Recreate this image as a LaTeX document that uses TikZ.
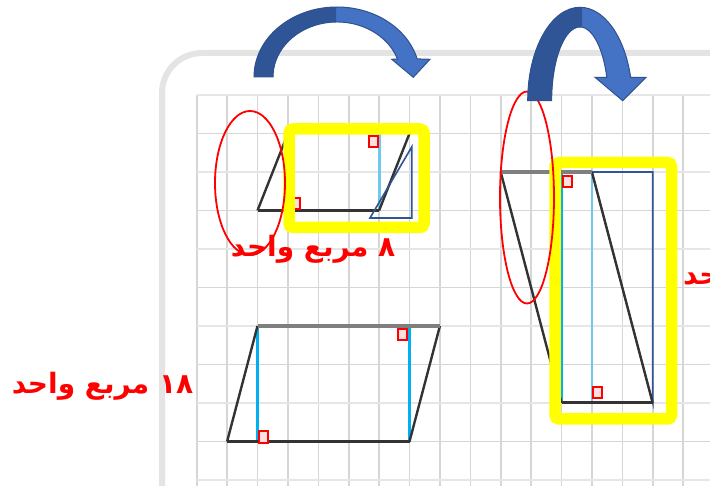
\documentclass[tikz,border=0pt]{standalone}
\usepackage{fontspec}
\newfontfamily\arabicfont[Script=Arabic]{DejaVu Sans}
\TeXXeTstate=1
\begin{document}
\begin{tikzpicture}[x=1pt,y=-1pt,
  gridline/.style={draw=gridgray,line width=1.6},
  gridwide/.style={draw=gridlight,line width=2.6},
  boardframe/.style={draw=framegray,line width=6,rounded corners=40},
  slantedge/.style={draw=edgedark,line width=2.4},
  baseedge/.style={draw=edgedark,line width=3},
  topedge/.style={draw=edgegray,line width=3.6},
  heightline/.style={draw=heightblue,line width=2.4},
  paleheight/.style={draw=paleblue,line width=2.8},
  cutpiece/.style={draw=cutblue,line width=1.6},
  anglemark/.style={draw=marker,fill=marker!12,line width=2},
  highlightbox/.style={draw=highlight,line width=11.5,rounded corners=4},
  loop/.style={draw=marker,line width=1.8},
  areatext/.style={text=marker,inner sep=0pt,font=\arabicfont\bfseries\fontsize{28}{32}\selectfont}]
\definecolor{gridgray}{HTML}{D6D6D6}
\definecolor{gridlight}{HTML}{E6E6E6}
\definecolor{framegray}{HTML}{E4E4E4}
\definecolor{arrowdark}{HTML}{2F5597}
\definecolor{arrowlight}{HTML}{4472C4}
\definecolor{arrowline}{HTML}{2F528F}
\definecolor{cutblue}{HTML}{2F5597}
\definecolor{heightblue}{HTML}{00B0F0}
\definecolor{paleblue}{HTML}{6FC8EE}
\definecolor{marker}{HTML}{FF0000}
\definecolor{highlight}{HTML}{FFFF00}
\definecolor{edgegray}{HTML}{7F7F7F}
\definecolor{edgedark}{HTML}{333333}
\useasboundingbox (0,0) rectangle (710,486);
\fill[white] (0,0) rectangle (710,486);
% squared paper
\foreach \i in {0,...,16}
  {\draw[gridline] ({196.7+30.4*\i},95) -- ({196.7+30.4*\i},486);}
\foreach \j in {1,3,...,9}
  {\draw[gridline] (196.7,{95+38.5*\j}) -- (710,{95+38.5*\j});}
\foreach \j in {0,2,...,10}
  {\draw[gridwide] (196.7,{95+38.5*\j}) -- (710,{95+38.5*\j});}
\draw[boardframe] (162,560) |- (760,53);
% shapes on the grid
\begin{scope}[shift={(196.7,95)},x=30.4pt,y=-38.5pt]
  \coordinate (s1) at (2,3); \coordinate (s2) at (6,3);
  \coordinate (s3) at (7,1); \coordinate (s4) at (3,1);
  \coordinate (b1) at (1,9); \coordinate (b2) at (7,9);
  \coordinate (b3) at (8,6); \coordinate (b4) at (2,6);
  \coordinate (t1) at (10,2); \coordinate (t2) at (13,2);
  \coordinate (t3) at (15,8); \coordinate (t4) at (12,8);
  \draw[paleheight] (6,1) -- (s2);
  \draw[heightline] (b4) -- (2,9);
  \draw[heightline] (7,6) -- (b2);
  \draw[heightline] (12,2) -- (t4);
  \draw[paleheight] (t2) -- (13,8);
  \draw[cutpiece] (t2) -- (15,2) -- (t3) -- cycle;
  \draw[slantedge] (s1) -- (s4);
  \draw[slantedge] (s2) -- (s3);
  \draw[baseedge] (s1) -- (s2);
  \draw[draw=edgedark,line width=1.8] (s4) -- (s3);
  \draw[slantedge] (b1) -- (b4);
  \draw[slantedge] (b2) -- (b3);
  \draw[baseedge] (b1) -- (b2);
  \draw[topedge] (b4) -- (b3);
  \draw[slantedge] (t1) -- (t4);
  \draw[slantedge] (t2) -- (t3);
  \draw[baseedge] (t4) -- (t3);
  \draw[topedge] (t1) -- (t2);
\end{scope}
% moved triangle, small shape
\coordinate (c1) at (370,218);
\coordinate (c2) at (411.7,218);
\coordinate (c3) at (411.7,147);
\draw[cutpiece] (c1) -- (c2) -- (c3) -- cycle;
% right angle marks
\foreach \mx/\my in {369/136,291/198,258.5/431.5,397.5/329,562.5/176,593/387.5}
  {\draw[anglemark] (\mx,\my) rectangle ++(9,11);}
\draw[highlightbox] (289,129) rectangle (424,227.5);
\draw[highlightbox] (555,162.5) rectangle (671.5,419);
\draw[loop] (250,183) ellipse [x radius=35,y radius=72];
\draw[loop] (527,197.5) ellipse [x radius=27,y radius=106];
% labels
\node[areatext] (smallarea) at (313,249) {\beginR ٨ مربع واحد\endR};
\node[areatext] (bigarea) at (102.5,386) {\beginR\beginL ١٨\endL{} مربع واحد\endR};
\node[areatext,anchor=west] (tallarea) at (683,277) {\beginR\beginL ١٨\endL{} مربع واحد\endR};
% bent arrows
\def\leftbend{(254,77) arc[start angle=180,end angle=345,x radius=83,y radius=70]
  -- (430,59.3) -- (413.3,77.3) -- (391.7,59.3) -- (397.5,59)
  arc[start angle=340.9,end angle=180,x radius=64,y radius=55] -- cycle}
\def\rightbend{(527.7,100.7) arc[start angle=180,end angle=345.5,x radius=52.3,y radius=93.4]
  -- (646,77.3) -- (622.7,100.7) -- (595,77.3) -- (606.8,77.3)
  arc[start angle=341.5,end angle=180,x radius=28.3,y radius=73.7] -- cycle}
\fill[arrowlight] \leftbend;
\fill[arrowlight] \rightbend;
\begin{scope}
  \clip (240,0) rectangle (336,90) (500,0) rectangle (582,110);
  \fill[arrowdark] \leftbend;
  \fill[arrowdark] \rightbend;
\end{scope}
\draw[arrowline,line width=1] \leftbend;
\draw[arrowline,line width=1] \rightbend;
\end{tikzpicture}
\end{document}
